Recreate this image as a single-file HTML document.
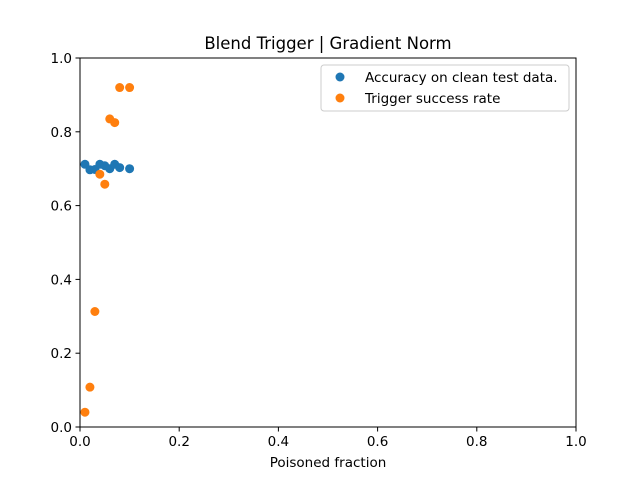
<!DOCTYPE html>
<html><head><meta charset="utf-8"><style>
body{margin:0;background:#fff;font-family:"Liberation Sans","DejaVu Sans",sans-serif}
text{font-family:"DejaVu Sans","Liberation Sans",sans-serif}
</style></head><body>
<svg id="c" width="640" height="480" xmlns="http://www.w3.org/2000/svg"></svg>
<script>
const xs=[0.01,0.02,0.03,0.04,0.05,0.06,0.07,0.08,0.1];
const accuracy=[0.712,0.697,0.698,0.712,0.708,0.700,0.712,0.703,0.700];
const trigger=[0.04,0.108,0.313,0.685,0.658,0.835,0.825,0.92,0.92];
const ticks=[0,0.2,0.4,0.6,0.8,1.0];
const tickLabels=["0.0","0.2","0.4","0.6","0.8","1.0"];
const L=80,R=576,T=58,B=427;
const X=v=>L+v*(R-L), Y=v=>B-v*(B-T);
const s=document.getElementById('c');const NS='http://www.w3.org/2000/svg';
function mk(t,a,p){const e=document.createElementNS(NS,t);for(const k in a)e.setAttribute(k,a[k]);(p||s).appendChild(e);return e;}
let e=mk('rect',{x:L,y:T,width:R-L,height:B-T,fill:'none',stroke:'#000','stroke-width':1});


ticks.forEach((v,i)=>{
 let l=mk('line',{x1:X(v),x2:X(v),y1:B,y2:B+4.5,stroke:'#000','stroke-width':1});
 
 
 let t=mk('text',{x:X(v),y:B+19,'text-anchor':'middle','font-size':13.5});t.textContent=tickLabels[i];
 
 
 l=mk('line',{x1:L-4.5,x2:L,y1:Y(v),y2:Y(v),stroke:'#000','stroke-width':1});
 
 
 t=mk('text',{x:L-8,y:Y(v)+5,'text-anchor':'end','font-size':13.5});t.textContent=tickLabels[i];
 
 
});
xs.forEach((x,i)=>{
 let c=mk('circle',{cx:X(x),cy:Y(accuracy[i]),r:4.5,fill:'#1f77b4'});
 
 
});
xs.forEach((x,i)=>{
 let c=mk('circle',{cx:X(x),cy:Y(trigger[i]),r:4.5,fill:'#ff7f0e'});
 
 
});
let t=mk('text',{x:328,y:49,'text-anchor':'middle','font-size':16.5});t.textContent='Blend Trigger | Gradient Norm';


t=mk('text',{x:328,y:467,'text-anchor':'middle','font-size':13.5});t.textContent='Poisoned fraction';


const g=mk('g',{});


mk('rect',{x:321,y:65,width:248,height:46,rx:3,fill:'#fff',stroke:'#ccc','stroke-width':1},g);
[['Accuracy on clean test data.','#1f77b4',77],['Trigger success rate','#ff7f0e',98]].forEach(([n,c,y])=>{
 let d=mk('circle',{cx:340,cy:y,r:4.5,fill:c},g);
 
 
 let tt=mk('text',{x:365,y:y+5,'font-size':13.5},g);tt.textContent=n;
 
 
});
</script>
</body></html>
